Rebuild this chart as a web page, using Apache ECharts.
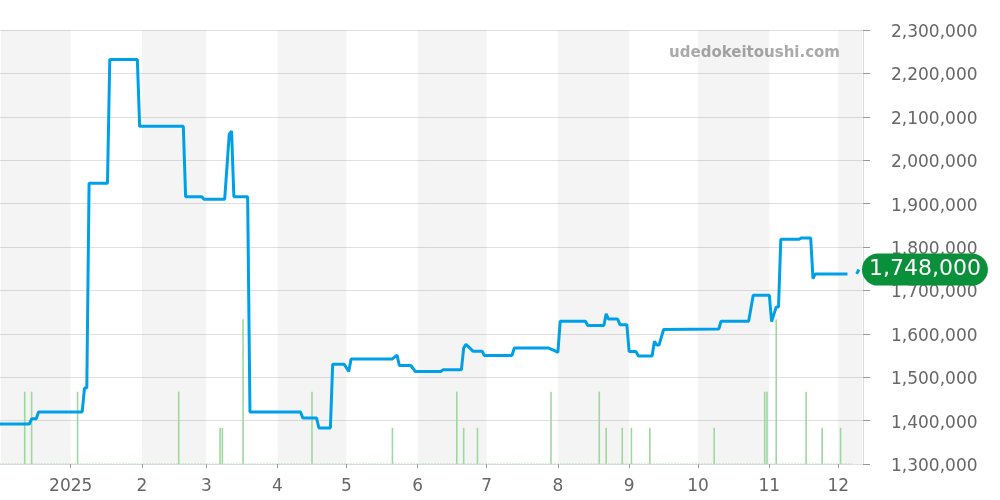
<!DOCTYPE html>
<html>
<head>
<meta charset="utf-8">
<script src="https://cdn.jsdelivr.net/npm/echarts@6/dist/echarts.min.js"></script>
<style>
html,body{margin:0;padding:0;background:#fff;}
#chart{width:1000px;height:500px;}
</style>
</head>
<body>
<div id="chart"></div>
<script>
// ---- data ----
var priceDates = [
'2024-12-01','2024-12-14','2024-12-15','2024-12-17','2024-12-18','2025-01-06','2025-01-07','2025-01-08',
'2025-01-09','2025-01-17','2025-01-18','2025-01-30','2025-01-31','2025-02-19','2025-02-20','2025-02-27',
'2025-02-28','2025-03-09','2025-03-11','2025-03-12','2025-03-13','2025-03-19','2025-03-20','2025-04-11',
'2025-04-12','2025-04-18','2025-04-19','2025-04-24','2025-04-25','2025-04-30','2025-05-02','2025-05-03',
'2025-05-21','2025-05-23','2025-05-24','2025-05-29','2025-05-31','2025-06-11','2025-06-12','2025-06-20',
'2025-06-21','2025-06-22','2025-06-25','2025-06-29','2025-06-30','2025-07-12','2025-07-13','2025-07-28',
'2025-07-31','2025-08-01','2025-08-02','2025-08-13','2025-08-14','2025-08-21','2025-08-22','2025-08-23',
'2025-08-27','2025-08-28','2025-08-31','2025-09-01','2025-09-04','2025-09-05','2025-09-11','2025-09-12',
'2025-09-13','2025-09-14','2025-09-16','2025-10-10','2025-10-11','2025-10-23','2025-10-25','2025-11-01',
'2025-11-02','2025-11-04','2025-11-05','2025-11-06','2025-11-14','2025-11-15','2025-11-19','2025-11-20',
'2025-11-21','2025-12-05','2025-12-07','2025-12-09','2025-12-10'
];
var priceValues = [
1392000,1392000,1404000,1404000,1420000,1420000,1475000,1475000,
1947000,1947000,2232000,2232000,2078000,2078000,1916000,1916000,
1910000,1910000,2060000,2067000,1916000,1916000,1420000,1420000,
1406000,1406000,1383000,1383000,1530000,1530000,1513000,1542000,
1542000,1551000,1527000,1527000,1513000,1513000,1517000,1517000,
1567000,1576000,1560000,1560000,1550000,1550000,1567000,1567000,
1560000,1557000,1629000,1629000,1619000,1619000,1646000,1634000,
1634000,1621000,1621000,1559000,1559000,1549000,1549000,1583000,
1574000,1574000,1610000,1611000,1629000,1629000,1689000,1689000,
1628000,1662000,1662000,1818000,1818000,1821000,1821000,1727000,
1738000,1738000,null,1738000,1748000
];
var volumeDates = [
'2024-12-12','2024-12-15','2025-01-04','2025-02-17','2025-03-07','2025-03-08','2025-03-17','2025-04-16',
'2025-05-21','2025-06-18','2025-06-21','2025-06-27','2025-07-29','2025-08-19','2025-08-22','2025-08-29',
'2025-09-02','2025-09-10','2025-10-08','2025-10-30','2025-10-31','2025-11-04','2025-11-17','2025-11-24',
'2025-12-02'
];
var volumeValues = [2,2,2,2,1,1,4,2, 1,2,1,1,2,2,1,1, 1,1,1,2,2,4,2,1, 1];
var volumeBaseDates = ['2024-12-01','2025-12-07'];
var bandStarts = ['2024-12-01T14:00:00','2025-02-01','2025-04-01','2025-06-01','2025-08-01','2025-10-01','2025-12-01'];
var bandEnds   = ['2025-01-01','2025-03-01','2025-05-01','2025-07-01','2025-09-01','2025-11-01','2025-12-11T10:00:00'];
var axisMin = '2024-12-01T14:00:00';
var axisMax = '2025-12-11T10:00:00';
var priceMin = 1300000, priceMax = 2300000, priceStep = 100000;
var lastLabel = '1,748,000';
var watermark = 'udedokeitoushi.com';

function fmt(v){ return String(v).replace(/\B(?=(\d{3})+(?!\d))/g, ','); }

var priceData = priceDates.map(function(d,i){ return [d, priceValues[i] === null ? '-' : priceValues[i]]; });
var volumeData = volumeDates.map(function(d,i){ return [d, volumeValues[i]]; });
var bands = bandStarts.map(function(s,i){ return [{xAxis:s},{xAxis:bandEnds[i]}]; });

var chart = echarts.init(document.getElementById('chart'), null, {renderer:'canvas'});
chart.setOption({
  animation:false,
  backgroundColor:'#fff',
  grid:{left:0, right:137, top:30, bottom:36, containLabel:false},
  xAxis:{
    type:'time', min:axisMin, max:axisMax,
    splitNumber:12,
    minInterval:28*86400000, maxInterval:31*86400000,
    axisLine:{show:false},
    axisTick:{show:true, length:4, lineStyle:{color:'#999'}},
    splitLine:{show:false},
    axisLabel:{
      color:'#666', fontSize:17, fontFamily:'DejaVu Sans', margin:14,
      hideOverlap:false,
      formatter:function(v){
        var d = new Date(v);
        return d.getMonth()===0 ? String(d.getFullYear()) : String(d.getMonth()+1);
      }
    }
  },
  yAxis:[{
    type:'value', position:'right', min:priceMin, max:priceMax, interval:priceStep,
    axisLine:{show:true, lineStyle:{color:'#ddd'}},
    axisTick:{show:true, length:7, lineStyle:{color:'#999'}},
    splitLine:{show:true, lineStyle:{color:'#e0e0e0', width:1}},
    axisLabel:{
      color:'#666', fontSize:17, fontFamily:'DejaVu Sans', margin:28,
      formatter:function(v){ return '{v|' + fmt(v) + '}'; },
      rich:{v:{color:'#666', fontSize:17, fontFamily:'DejaVu Sans', padding:[5,0,0,0]}}
    }
  },{
    type:'value', min:0, max:12, show:false,
    splitLine:{show:false}
  }],
  graphic:[{
    type:'text', right:160, top:46,
    style:{text:watermark, fill:'#aaa', font:'bold 15px "DejaVu Sans"'}
  }],
  series:[{
    type:'line', name:'band', data:[], silent:true,
    markArea:{silent:true, itemStyle:{color:'rgba(0,0,0,0.043)'}, data:bands},
    z:0
  },{
    type:'line', yAxisIndex:1, data:volumeBaseDates.map(function(d){return [d,0];}),
    showSymbol:false, silent:true,
    lineStyle:{color:'#9ed89e', width:1.5, type:[1,2]}, z:1
  },{
    type:'bar', yAxisIndex:1, data:volumeData, barWidth:1.6, barGap:'-100%',
    itemStyle:{color:'#9ed89e'}, silent:true, z:2
  },{
    type:'line', data:priceData, showSymbol:false, connectNulls:false,
    lineStyle:{color:'#00a0e9', width:3}, z:3,
    endLabel:{
      show:true, distance:3,
      formatter:function(){ return lastLabel; },
      color:'#fff', fontSize:22, fontFamily:'DejaVu Sans',
      backgroundColor:'#0a8f3a', borderRadius:16, padding:[4,7], lineHeight:24
    }
  }]
});
</script>
</body>
</html>
